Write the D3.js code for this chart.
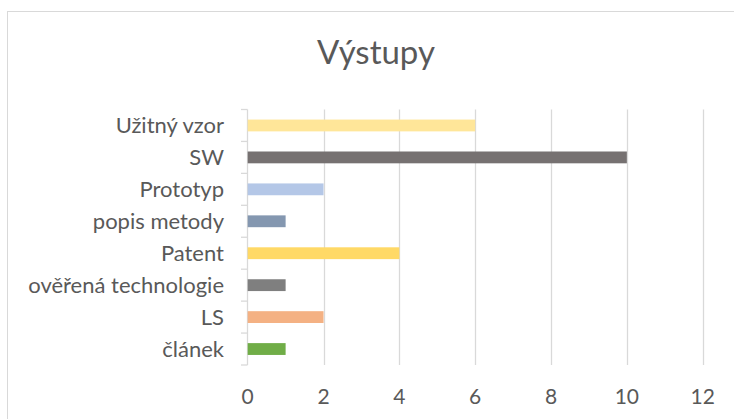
<!DOCTYPE html>
<html>
<head>
<meta charset="utf-8">
<script src="https://cdn.jsdelivr.net/npm/d3@7"></script>
<style>
  body { margin: 0; background: #fff; }
  text { font-family: Lato, sans-serif; fill: #595959; }
</style>
</head>
<body>
<div id="chart-area"></div>
<script>
var categories = ["Užitný vzor", "SW", "Prototyp", "popis metody", "Patent", "ověřená technologie", "LS", "článek"];
var values = [6, 10, 2, 1, 4, 1, 2, 1];
var colors = ["#ffe699", "#767171", "#b4c7e7", "#8497b0", "#ffd966", "#7f7f7f", "#f4b183", "#70ad47"];
var xTicks = [0, 2, 4, 6, 8, 10, 12];
var title = "Výstupy";

var data = categories.map((c, i) => ({ name: c, value: values[i], color: colors[i] }));

var svg = d3.select("#chart-area").append("svg")
    .attr("width", 734)
    .attr("height", 419);

// chart border (runs off the right and bottom edges)
svg.append("rect")
    .attr("x", 7.5)
    .attr("y", 11.5)
    .attr("width", 800)
    .attr("height", 500)
    .attr("fill", "none")
    .attr("stroke", "#d9d9d9");

svg.append("text")
    .attr("x", 376)
    .attr("y", 64)
    .attr("text-anchor", "middle")
    .style("font-size", "33px")
    .text(title);

var x = d3.scaleLinear()
    .domain([0, 12])
    .range([247.7, 702.7]);

var y = d3.scaleBand()
    .domain(categories)
    .range([109.5, 365])
    .paddingInner(0.63)
    .paddingOuter(0.315);

// gridlines
svg.append("g")
    .selectAll("line")
    .data(xTicks.slice(1))
    .enter()
    .append("line")
    .attr("x1", d => Math.round(x(d)) + 0.5)
    .attr("x2", d => Math.round(x(d)) + 0.5)
    .attr("y1", 109.5)
    .attr("y2", 365)
    .attr("stroke", "#d9d9d9")
    .attr("stroke-width", 1.3);

// category axis line + ticks at band edges
var step = y.step();
var edges = d3.range(categories.length + 1).map(i => 109.5 + i * step);
svg.append("line")
    .attr("x1", 247.5).attr("x2", 247.5)
    .attr("y1", 109.5).attr("y2", 365)
    .attr("stroke", "#d9d9d9")
    .attr("stroke-width", 1.3);
svg.append("g")
    .selectAll("line")
    .data(edges)
    .enter()
    .append("line")
    .attr("x1", 241)
    .attr("x2", 247.5)
    .attr("y1", d => d)
    .attr("y2", d => d)
    .attr("stroke", "#d9d9d9")
    .attr("stroke-width", 1.3);

// bars
svg.selectAll("rect.bar")
    .data(data)
    .enter()
    .append("rect")
    .attr("class", "bar")
    .attr("x", x(0))
    .attr("y", d => y(d.name))
    .attr("width", d => x(d.value) - x(0))
    .attr("height", y.bandwidth())
    .attr("fill", d => d.color);

// category labels
svg.append("g")
    .selectAll("text")
    .data(categories)
    .enter()
    .append("text")
    .attr("x", 224)
    .attr("y", d => y(d) + y.bandwidth() / 2)
    .attr("dy", "0.35em")
    .attr("text-anchor", "end")
    .style("font-size", "22px")
    .text(d => d);

// value axis labels
svg.append("g")
    .selectAll("text")
    .data(xTicks)
    .enter()
    .append("text")
    .attr("x", d => x(d))
    .attr("y", 403.5)
    .attr("text-anchor", "middle")
    .style("font-size", "21px")
    .text(d => d);
</script>
</body>
</html>
